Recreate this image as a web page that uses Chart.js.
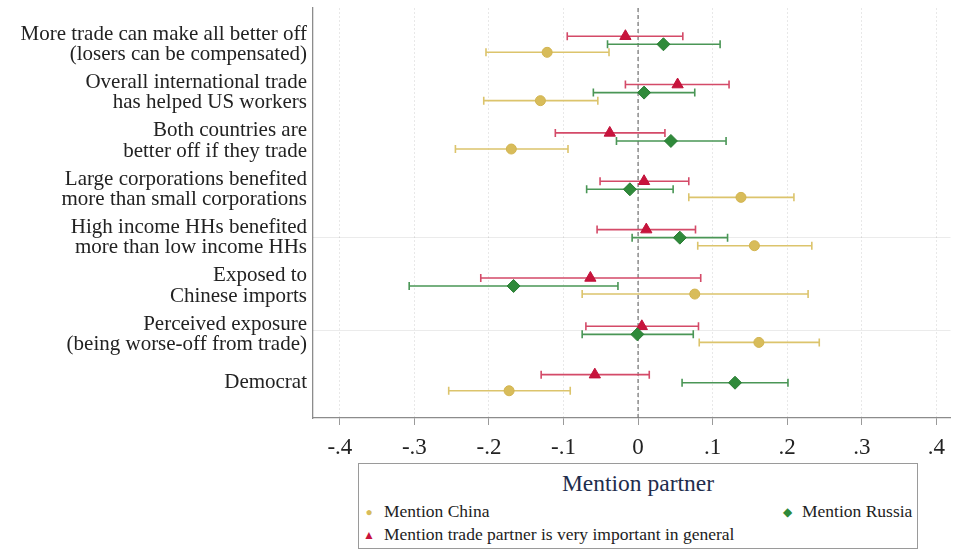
<!DOCTYPE html>
<html>
<head>
<meta charset="utf-8">
<script src="https://cdn.jsdelivr.net/npm/chart.js@4.4.1/dist/chart.umd.min.js"></script>
<style>
  html, body { margin: 0; padding: 0; background: #fff; }
  #wrap { position: relative; width: 958px; height: 550px; }
  #legend {
    position: absolute; left: 358px; top: 463px; width: 560px; height: 86px;
    border: 1px solid #9a9a9a; box-sizing: border-box; background: #fff;
    font-family: "Liberation Serif", serif; color: #222;
  }
  #legend .title {
    position: absolute; left: 0; right: 0; top: 6px; text-align: center;
    font-size: 23.5px; color: #1f2d4d;
  }
  #legend .item { position: absolute; font-size: 17.5px; white-space: nowrap; line-height: 20px; }
  #legend .mk { display: inline-block; width: 14px; margin-right: 8px; text-align: center; font-size: 12px; vertical-align: 1px; }
</style>
</head>
<body>
<div id="wrap">
  <canvas id="c" width="958" height="550"></canvas>
  <div id="legend">
    <div class="title">Mention partner</div>
    <div class="item" style="left:3px; top:37px;"><span class="mk" style="color:#d8bc5a;">●</span>Mention China</div>
    <div class="item" style="left:421px; top:37px;"><span class="mk" style="color:#2f8a3a;">◆</span>Mention Russia</div>
    <div class="item" style="left:3px; top:60px;"><span class="mk" style="color:#c8143c;">▲</span>Mention trade partner is very important in general</div>
  </div>
</div>
<script>
// Outcome labels (one row group per outcome, top to bottom)
const categories = [
  ["More trade can make all better off", "(losers can be compensated)"],
  ["Overall international trade", "has helped US workers"],
  ["Both countries are", "better off if they trade"],
  ["Large corporations benefited", "more than small corporations"],
  ["High income HHs benefited", "more than low income HHs"],
  ["Exposed to", "Chinese imports"],
  ["Perceived exposure", "(being worse-off from trade)"],
  ["Democrat"]
];

// Point estimates and confidence bounds per treatment
const chinaCoef   = [-0.122, -0.131, -0.170, 0.138, 0.156, 0.076, 0.162, -0.173];
const chinaLow    = [-0.204, -0.207, -0.245, 0.068, 0.080, -0.075, 0.082, -0.254];
const chinaHigh   = [-0.039, -0.054, -0.094, 0.209, 0.233, 0.228, 0.243, -0.091];

const russiaCoef  = [0.034, 0.008, 0.044, -0.011, 0.056, -0.167, -0.001, 0.130];
const russiaLow   = [-0.041, -0.060, -0.029, -0.069, -0.008, -0.307, -0.075, 0.059];
const russiaHigh  = [0.110, 0.076, 0.118, 0.047, 0.120, -0.027, 0.074, 0.201];

const generalCoef = [-0.017, 0.053, -0.038, 0.008, 0.011, -0.064, 0.005, -0.058];
const generalLow  = [-0.095, -0.017, -0.111, -0.051, -0.055, -0.211, -0.070, -0.130];
const generalHigh = [0.060, 0.122, 0.036, 0.068, 0.077, 0.084, 0.081, 0.015];

const xTicks = [-0.4, -0.3, -0.2, -0.1, 0, 0.1, 0.2, 0.3, 0.4];

// vertical offset of each series inside an outcome group
const OFF = 1 / 6;

function series(coef, low, high, off) {
  return coef.map((v, i) => ({ x: v, y: i + off, lo: low[i], hi: high[i] }));
}

const ciColors = ['#dcc46c', '#4a9656', '#d44a68'];

// horizontal confidence intervals with end caps, placed through the chart scales
const ciPlugin = {
  id: 'ciBars',
  beforeDatasetsDraw(chart) {
    const { ctx, scales: { x, y }, chartArea } = chart;
    ctx.save();
    // reference line at zero
    const x0 = x.getPixelForValue(0);
    ctx.strokeStyle = '#7a7a7a';
    ctx.lineWidth = 1.3;
    ctx.setLineDash([4, 3]);
    ctx.beginPath();
    ctx.moveTo(x0, chartArea.top);
    ctx.lineTo(x0, chartArea.bottom);
    ctx.stroke();
    ctx.setLineDash([]);
    // faint horizontal guides
    ctx.strokeStyle = 'rgba(0,0,0,0.08)';
    ctx.lineWidth = 1;
    [3.98, 5.9].forEach(v => {
      const py = Math.round(y.getPixelForValue(v)) + 0.5;
      ctx.beginPath();
      ctx.moveTo(chartArea.left, py);
      ctx.lineTo(chartArea.right, py);
      ctx.stroke();
    });
    chart.data.datasets.forEach((ds, di) => {
      ctx.strokeStyle = ciColors[di];
      ctx.lineWidth = 1.6;
      ds.data.forEach(p => {
        const py = y.getPixelForValue(p.y);
        const xl = x.getPixelForValue(p.lo);
        const xh = x.getPixelForValue(p.hi);
        ctx.beginPath();
        ctx.moveTo(xl, py); ctx.lineTo(xh, py);
        ctx.moveTo(xl, py - 4); ctx.lineTo(xl, py + 4);
        ctx.moveTo(xh, py - 4); ctx.lineTo(xh, py + 4);
        ctx.stroke();
      });
    });
    ctx.restore();
  }
};

const serif = "'Liberation Serif', serif";

new Chart(document.getElementById('c'), {
  type: 'scatter',
  data: {
    datasets: [
      { label: 'Mention China', data: series(chinaCoef, chinaLow, chinaHigh, OFF),
        pointStyle: 'circle', radius: 5, backgroundColor: '#d8bc5a', borderColor: '#d2b450', borderWidth: 1 },
      { label: 'Mention Russia', data: series(russiaCoef, russiaLow, russiaHigh, 0),
        pointStyle: 'rectRot', radius: 6.5, backgroundColor: '#2f8a3a', borderColor: '#2a7c34', borderWidth: 1 },
      { label: 'Mention trade partner is very important in general', data: series(generalCoef, generalLow, generalHigh, -OFF),
        pointStyle: 'triangle', radius: 6.5, backgroundColor: '#c8143c', borderColor: '#c0123a', borderWidth: 1 }
    ]
  },
  options: {
    responsive: false,
    animation: false,
    layout: { padding: { top: 8, right: 0, bottom: 88, left: 0 } },
    plugins: { legend: { display: false }, tooltip: { enabled: false } },
    scales: {
      x: {
        type: 'linear', min: -0.436, max: 0.419,
        afterBuildTicks(s) { s.ticks = xTicks.map(v => ({ value: v })); },
        afterFit(s) { s.height = 44; s.paddingLeft = 0; s.paddingRight = 0; },
        ticks: {
          autoSkip: false, maxRotation: 0, padding: 9,
          color: '#222', font: { family: serif, size: 23 },
          callback: v => {
            const r = Math.round(v * 10);
            if (r === 0) return '0';
            return (r < 0 ? '-' : '') + '.' + Math.abs(r);
          }
        },
        grid: { color: 'rgba(0,0,0,0.09)', tickColor: '#9a9a9a', tickLength: 7, lineWidth: 1 },
        border: { display: true, color: '#8c8c8c', width: 1.3, dash: [2, 2] }
      },
      y: {
        type: 'linear', reverse: true, min: -0.75, max: 7.73,
        afterBuildTicks(s) { s.ticks = categories.map((_, i) => ({ value: i })); },
        afterFit(s) { s.width = 313; s.paddingTop = 0; s.paddingBottom = 0; },
        ticks: {
          autoSkip: false, padding: 6, color: '#222',
          font: { family: serif, size: 21, lineHeight: 0.97 },
          callback: (v, i) => categories[i]
        },
        grid: { display: false, drawTicks: false },
        border: { display: true, color: '#8c8c8c', width: 1.3 }
      }
    }
  },
  plugins: [ciPlugin]
});
</script>
</body>
</html>
